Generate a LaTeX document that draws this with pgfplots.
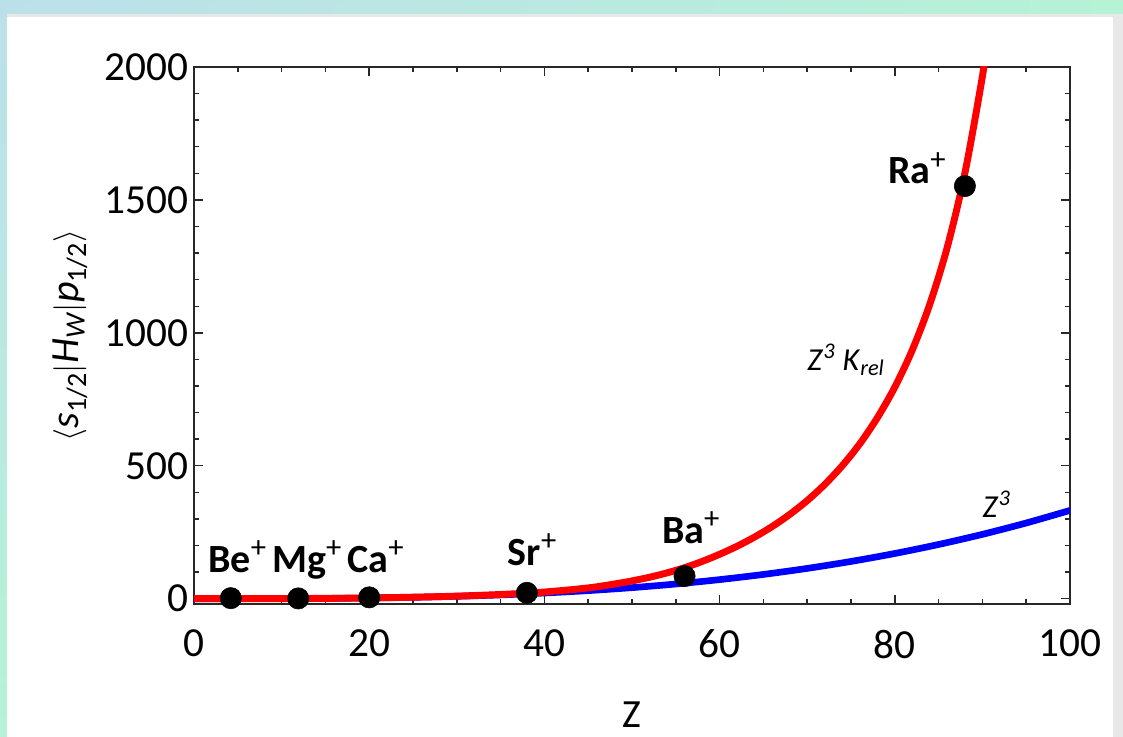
\documentclass[border=0pt]{standalone}
\usepackage{pgfplots}
\pgfplotsset{compat=1.18}
\usetikzlibrary{shadings}
\usepackage{fontspec}
\setmainfont{Carlito}
\definecolor{mintA}{RGB}{188,224,234}
\definecolor{mintB}{RGB}{182,242,214}
\definecolor{axgray}{RGB}{40,40,40}
\newcommand{\ionplus}{\raisebox{11pt}{\fontsize{23}{23}\selectfont\mdseries +}}
\begin{document}
\begin{tikzpicture}
% slide background (page is 1123 x 737 px, 1 px = 0.75pt)
\shade[upper left=mintA, upper right=mintB, lower left=mintB, lower right=mintB] (0pt,0pt) rectangle (842.25pt,552.75pt);
\fill[black!9] (5.25pt,0pt) rectangle (842.25pt,542.5pt);
\fill[white] (5.25pt,0pt) rectangle (834.75pt,540pt);
\begin{axis}[
  at={(145.5pt,99.75pt)}, anchor=south west,
  scale only axis, width=657pt, height=402.75pt,
  xmin=0, xmax=100, ymin=-20, ymax=2000,
  xtick={0,20,40,60,80,100}, ytick={0,500,1000,1500,2000},
  minor x tick num=3, minor y tick num=4,
  tick align=inside, major tick length=6.75pt, minor tick length=3.4pt,
  axis line style={axgray, line width=1.4pt},
  every tick/.style={axgray, line width=1.1pt},
  /pgf/number format/assume math mode=true,
  /pgf/number format/1000 sep={},
  ticklabel style={font=\fontsize{31}{31}\selectfont},
  yticklabel style={xshift=-1pt},
  xticklabel style={yshift=-16pt},
  xlabel={Z}, ylabel={$\langle$\textit{s}\textsubscript{1/2}$|$\textit{H}\textsubscript{\textit{W}}$|$\textit{p}\textsubscript{1/2}$\rangle$},
  label style={font=\fontsize{30}{30}\selectfont},
  xlabel style={at={(axis description cs:0.5,-0.206)}, anchor=center},
  ylabel style={at={(axis description cs:-0.1416,0.50)}, anchor=center},
  clip=true,
]
\addplot[blue, line width=5pt, smooth] coordinates {
(0,0)(5,0.04)(10,0.33)(15,1.12)(20,2.66)(25,5.19)(30,8.96)(35,14.2)(40,21.3)(45,30.3)(50,41.5)(55,55.2)(60,71.7)(65,91.2)(70,113.9)(75,140.1)(80,170.0)(85,203.9)(90,242.0)(95,284.7)(100,332)};
\addplot[red, line width=5.2pt, smooth] coordinates {
(0,0)(5,0.04)(10,0.33)(15,1.13)(20,2.75)(25,5.5)(30,9.6)(35,15.8)(40,25)(45,40.5)(48,55.2)(50,66.8)(52,80.6)(54,97.1)(56,116.5)(58,140)(60,167)(62,197.3)(64,232)(66,271.4)(68,316.8)(70,369)(72,429.6)(74,500.1)(76,582.4)(78,680.2)(80,795.8)(82,935.7)(84,1108)(86,1323.6)(88,1600.6)(90,1964.7)(91,2188)};
\addplot[only marks, mark=*, mark size=8pt, black] coordinates {
(4.2,2)(11.9,1)(20,5)(38,22)(56,85)(88,1552)};
\node[anchor=base west, inner sep=0pt, font=\fontsize{30}{30}\selectfont\bfseries] at (axis cs:1.6,100) {Be\ionplus};
\node[anchor=base west, inner sep=0pt, font=\fontsize{30}{30}\selectfont\bfseries] at (axis cs:8.9,100) {Mg\ionplus};
\node[anchor=base west, inner sep=0pt, font=\fontsize{30}{30}\selectfont\bfseries] at (axis cs:17.5,100) {Ca\ionplus};
\node[anchor=base west, inner sep=0pt, font=\fontsize{30}{30}\selectfont\bfseries] at (axis cs:35.8,126) {Sr\ionplus};
\node[anchor=base west, inner sep=0pt, font=\fontsize{30}{30}\selectfont\bfseries] at (axis cs:53.4,209) {Ba\ionplus};
\node[anchor=base west, inner sep=0pt, font=\fontsize{30}{30}\selectfont\bfseries] at (axis cs:79.2,1560) {Ra\ionplus};
\node[anchor=base west, inner sep=0pt, font=\fontsize{24}{24}\selectfont] at (axis cs:70.0,859) {\textit{Z}\textsuperscript{\textit{3}} \textit{K}\textsubscript{\textit{rel}}};
\node[anchor=base west, inner sep=0pt, font=\fontsize{24}{24}\selectfont] at (axis cs:90.0,307) {\textit{Z}\textsuperscript{\textit{3}}};
\end{axis}
\end{tikzpicture}
\end{document}
